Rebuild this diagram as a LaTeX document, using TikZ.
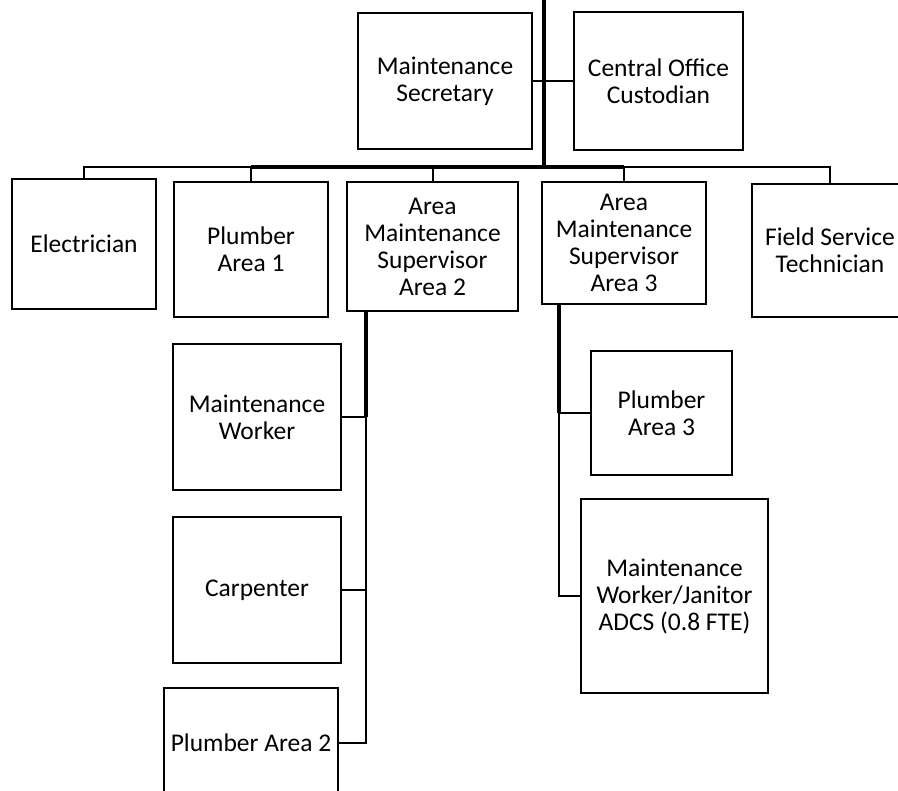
\documentclass[tikz,border=0pt]{standalone}
\usepackage{fontspec}
\setmainfont{Carlito}
\begin{document}
\begin{tikzpicture}[x=1pt,y=-1pt,
    role/.style={draw, line width=1.6pt, align=center, inner sep=0pt,
      font=\fontsize{25.5}{27}\selectfont},
    link/.style={line width=2pt},
    trunk/.style={line width=3.6pt}]
  \useasboundingbox (0,0) rectangle (898,791);
  \clip (0,0) rectangle (898,791);

  % Define positions
  \coordinate (top) at (544,0);
  \coordinate (bus) at (544,167);

  % Staff boxes
  \node[role, minimum width=174pt, minimum height=136pt] (sec) at (445,81) {Maintenance\\Secretary};
  \node[role, minimum width=169pt, minimum height=138pt] (cust) at (658.5,81) {Central Office\\Custodian};
  \node[role, minimum width=144pt, minimum height=130pt] (elec) at (84,244) {Electrician};
  \node[role, minimum width=154pt, minimum height=135pt] (plumbA) at (251,249.5) {Plumber\\Area 1};
  \node[role, minimum width=171pt, minimum height=129pt] (supB) at (432.5,246.5) {Area\\Maintenance\\Supervisor\\Area 2};
  \node[role, minimum width=164pt, minimum height=122pt] (supC) at (624,243) {Area\\Maintenance\\Supervisor\\Area 3};
  \node[role, minimum width=156pt, minimum height=133pt] (field) at (830,250.5) {Field Service\\Technician};
  \node[role, minimum width=168pt, minimum height=146pt] (worker) at (257,417) {Maintenance\\Worker};
  \node[role, minimum width=168pt, minimum height=146pt] (carp) at (257,590) {Carpenter};
  \node[role, minimum width=174pt, minimum height=110pt] (plumbB) at (251,743) {Plumber Area 2};
  \node[role, minimum width=141pt, minimum height=124pt] (plumbC) at (661.5,413) {Plumber\\Area 3};
  \node[role, minimum width=187pt, minimum height=194pt] (janitor) at (674.5,596) {Maintenance\\Worker/Janitor\\ADCS (0.8 FTE)};

  % Draw top level
  \draw[trunk] (top) -- (bus);
  \draw[link] (sec.east) -- (cust.west);

  % Draw second level
  \draw[link] (elec.north) |- (bus);
  \draw[link] (plumbA.north) |- (bus);
  \draw[link] (supB.north) |- (bus);
  \draw[link] (supC.north) |- (bus);
  \draw[link] (field.north) |- (bus);
  \draw[trunk] (plumbA.north |- bus) -- (supC.north |- bus);

  % Draw Area 2 team
  \coordinate (legB) at ([xshift=19.5pt]supB.south west);
  \draw[link] (legB) |- (plumbB.east);
  \draw[link] (worker.east) -| (legB);
  \draw[link] (carp.east) -| (legB);
  \draw[trunk] (legB) -- (legB |- worker.east);

  % Draw Area 3 team
  \coordinate (legC) at ([xshift=18pt]supC.south west);
  \draw[link] (legC) |- (janitor.west);
  \draw[link] (plumbC.west) -| (legC);
  \draw[trunk] (legC) -- (legC |- plumbC.west);
\end{tikzpicture}
\end{document}
